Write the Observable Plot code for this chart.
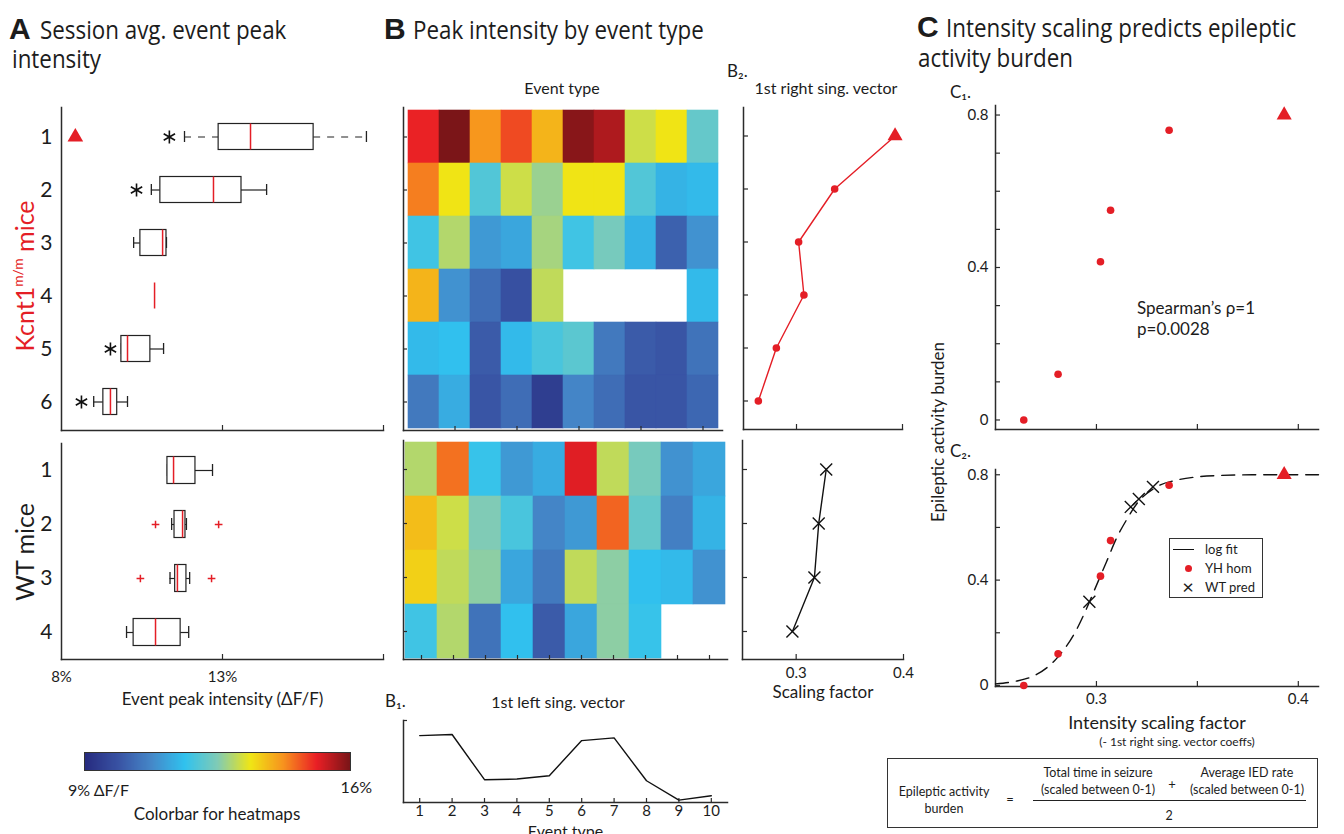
<!DOCTYPE html>
<html><head><meta charset="utf-8">
<script src="https://cdn.jsdelivr.net/npm/d3@7"></script>
<script src="https://cdn.jsdelivr.net/npm/@observablehq/plot@0.6"></script>
<style>
body{margin:0;background:#fff;}
#fig{position:relative;width:1344px;height:834px;overflow:hidden;background:#fff;}
.t{position:absolute;white-space:nowrap;line-height:1;}
</style></head><body><div id="fig"></div>
<script>
// ---------------- data ----------------
const mutantRows = [1, 2, 3, 4, 5, 6];
const wtRows = [1, 2, 3, 4];
const eventTypes = [1, 2, 3, 4, 5, 6, 7, 8, 9, 10];

// Panel A: Kcnt1 m/m mice, session avg. event peak intensity (% dF/F)
const mutWhiskerLo = [11.82, 10.79, 10.24, null, 9.86, 9.00];
const mutQ1        = [12.88, 11.07, 10.45, null, 9.86, 9.30];
const mutMedian    = [13.87, 12.72, 11.14, 10.89, 10.05, 9.52];
const mutQ3        = [15.83, 13.59, 11.26, null, 10.76, 9.73];
const mutWhiskerHi = [17.47, 14.37, 11.26, null, 11.17, 10.05];
const mutStar      = [11.35, 10.33, null, null, 9.52, 8.62];
const mutTriangleRow = 1;
const mutTriangleX = 8.43;

// Panel A: WT mice
const wtWhiskerLo = [11.29, 11.42, 11.37, 10.02];
const wtQ1        = [11.29, 11.51, 11.53, 10.24];
const wtMedian    = [11.48, 11.76, 11.60, 10.92];
const wtQ3        = [12.16, 11.85, 11.88, 11.70];
const wtWhiskerHi = [12.69, 11.88, 11.98, 11.95];
const wtOutlierRow = [2, 2, 3, 3];
const wtOutlierX   = [10.92, 12.88, 10.45, 12.66];

// Panel B: peak intensity heatmaps (% dF/F), rows = mice, cols = event type
const mutHeat = [
  [15.1, 16.0, 14.2, 14.8, 13.9, 15.9, 15.6, 13.1, 13.4, 12.2],
  [14.4, 13.4, 12.0, 13.1, 12.7, 13.4, 13.4, 12.0, 11.4, 11.5],
  [11.8, 12.9, 11.0, 11.2, 12.8, 11.8, 12.4, 11.4, 10.1, 10.9],
  [13.9, 10.9, 10.3,  9.8, 13.0, null, null, null, null, 11.5],
  [11.5, 11.6, 10.0, 11.5, 11.9, 12.1, 10.5, 10.0,  9.9, 10.4],
  [10.5, 11.3,  9.9, 10.3,  9.4, 10.7, 10.3,  9.9,  9.9, 10.2]
];
const wtHeat = [
  [12.9, 14.5, 11.7, 11.0, 11.3, 15.2, 13.0, 12.4, 10.9, 11.2],
  [13.8, 13.1, 12.5, 11.9, 10.7, 11.0, 14.6, 12.2, 10.6, 11.4],
  [13.6, 13.0, 12.6, 11.2, 10.5, 13.0, 12.6, 11.6, 11.5, 10.9],
  [11.8, 12.9, 10.4, 11.6, 10.0, 11.2, 12.6, 11.7, null, null]
];
const heatDomain = [9, 16];
const heatColors = ["#272c80", "#3953a4", "#4588c9", "#30c2ef", "#80cbb6", "#f0e615", "#f7921e", "#ea1f25", "#7b1518"];

// B1: 1st left singular vector (per event type, arbitrary units)
const leftVector = [0.816, 0.829, 0.278, 0.286, 0.327, 0.755, 0.788, 0.265, 0.029, 0.082];
// B2: 1st right singular vector (scaling factor per mouse)
const mutScaling = [0.393, 0.336, 0.302, 0.307, 0.281, 0.264];
const wtScaling  = [0.328, 0.321, 0.317, 0.2965];

// C: epileptic activity burden
const mutBurden = [0.80, 0.76, 0.415, 0.55, 0.12, 0.0];
const wtPredBurden = [0.754, 0.708, 0.678, 0.318];
const fitX = [0.25, 0.26, 0.27, 0.28, 0.29, 0.295, 0.30, 0.305, 0.31, 0.315, 0.32, 0.33, 0.34, 0.35, 0.36, 0.38, 0.41];
const fitY = [0.006, 0.016, 0.04, 0.10, 0.21, 0.29, 0.38, 0.47, 0.56, 0.63, 0.69, 0.755, 0.78, 0.792, 0.797, 0.80, 0.80];

const c1YTicks = [0, 0.1, 0.2, 0.3, 0.4, 0.5, 0.6, 0.7, 0.8];
const c2YTicks = [0, 0.2, 0.4, 0.6, 0.8];
const cYLabels = [0, 0.4, 0.8];
const cXTicks = [0.3, 0.35, 0.4];
const cXLabels = [0.3, 0.4];

// ---------------- helpers ----------------
const W = 1344, H = 834;
const fig = document.getElementById("fig");
const FONT = "Lato, 'Open Sans', 'DejaVu Sans', sans-serif";
const TFONT = "'Open Sans', sans-serif";
const RED = "#e41e26", AX = "#2b2b2b", INK = "#1c1c1c";

function place(box, opts) {
  const [x0, y0, x1, y1] = box;
  const svg = Plot.plot({
    width: W, height: H,
    marginLeft: x0, marginRight: W - x1, marginTop: y0, marginBottom: H - y1,
    style: {background: "transparent", fontFamily: FONT, color: INK, overflow: "visible"},
    ...opts
  });
  svg.style.position = "absolute"; svg.style.left = "0px"; svg.style.top = "0px";
  fig.appendChild(svg);
  return svg;
}
function txt(s, x, y, o = {}) {
  const {size = 16, anchor = "start", color = INK, weight = 400, rotate = 0, family = FONT, html = false, sx = 1} = o;
  const d = document.createElement("div");
  d.className = "t";
  if (html) d.innerHTML = s; else d.textContent = s;
  const tx = anchor === "middle" ? "-50%" : anchor === "end" ? "-100%" : "0";
  d.style.left = x + "px"; d.style.top = y + "px";
  d.style.fontSize = size + "px"; d.style.color = color; d.style.fontWeight = weight; d.style.fontFamily = family;
  d.style.transformOrigin = "0 50%";
  if (rotate) d.style.transformOrigin = "50% 50%";
  d.style.transform = `translate(${rotate ? "-50%" : tx},-50%)` + (rotate ? ` rotate(${rotate}deg)` : "") + (sx !== 1 ? ` scaleX(${sx})` : "");
  fig.appendChild(d);
  return d;
}
const frameL = () => Plot.frame({anchor: "left", stroke: AX, strokeWidth: 1.5});
const frameB = () => Plot.frame({anchor: "bottom", stroke: AX, strokeWidth: 1.5});
const inTicksX = (vals, h, len = 5) => Plot.ruleX(vals, {insetTop: h - len, stroke: AX, strokeWidth: 1.2});
const inTicksY = (vals, w, len = 5) => Plot.ruleY(vals, {insetRight: w - len, stroke: AX, strokeWidth: 1.2});

function boxMarks(data, dashedRow) {
  const has = data.filter(d => d.q1 != null);
  return [
    Plot.ruleY(has.filter(d => d.row !== dashedRow), {y: "row", x1: "lo", x2: "q1", stroke: "#222", strokeWidth: 1.2}),
    Plot.ruleY(has.filter(d => d.row !== dashedRow), {y: "row", x1: "q3", x2: "hi", stroke: "#222", strokeWidth: 1.2}),
    Plot.ruleY(has.filter(d => d.row === dashedRow), {y: "row", x1: "lo", x2: "q1", stroke: "#222", strokeWidth: 1.2, strokeDasharray: "7,7"}),
    Plot.ruleY(has.filter(d => d.row === dashedRow), {y: "row", x1: "q3", x2: "hi", stroke: "#222", strokeWidth: 1.2, strokeDasharray: "7,7"}),
    Plot.tickX(has, {x: "lo", y: "row", insetTop: 21, insetBottom: 21, stroke: "#222", strokeWidth: 1.3}),
    Plot.tickX(has, {x: "hi", y: "row", insetTop: 21, insetBottom: 21, stroke: "#222", strokeWidth: 1.3}),
    Plot.barX(has, {x1: "q1", x2: "q3", y: "row", insetTop: 13.5, insetBottom: 13.5, fill: "white", stroke: "#222", strokeWidth: 1.2}),
    Plot.tickX(data, {x: "med", y: "row", insetTop: 13.5, insetBottom: 13.5, stroke: RED, strokeWidth: 1.5})
  ];
}

// ---------------- Panel A ----------------
const mutBox = mutantRows.map((r, i) => ({row: r, lo: mutWhiskerLo[i], q1: mutQ1[i], med: mutMedian[i], q3: mutQ3[i], hi: mutWhiskerHi[i], star: mutStar[i]}));
const wtBox = wtRows.map((r, i) => ({row: r, lo: wtWhiskerLo[i], q1: wtQ1[i], med: wtMedian[i], q3: wtQ3[i], hi: wtWhiskerHi[i]}));
const wtOut = wtOutlierRow.map((r, i) => ({row: r, x: wtOutlierX[i]}));

place([61, 107, 383, 430], {
  x: {domain: [8, 18], axis: null},
  y: {type: "band", domain: mutantRows, padding: 0},
  marks: [
    Plot.axisY({tickSize: 0, tickPadding: 9, fontSize: 21, label: null}),
    ...boxMarks(mutBox, 1),
    Plot.dot(mutBox.filter(d => d.star != null), {x: "star", y: "row", symbol: "asterisk", r: 6.2, stroke: "#111", strokeWidth: 1.6}),
    Plot.dot([{row: mutTriangleRow, x: mutTriangleX}], {x: "x", y: "row", symbol: "triangle", r: 5.8, fill: RED}),
    inTicksX([13, 18], 323),
    frameL(), frameB()
  ]
});

place([61, 443, 383, 659], {
  x: {domain: [8, 18]},
  y: {type: "band", domain: wtRows, padding: 0},
  marks: [
    Plot.axisY({tickSize: 0, tickPadding: 9, fontSize: 21, label: null}),
    Plot.axisX({ticks: [8, 13], tickFormat: d => d + "%", tickSize: 0, tickPadding: 12, fontSize: 15, label: null}),
    Plot.axisX({ticks: [], label: "Event peak intensity (ΔF/F)", labelAnchor: "center", labelOffset: 45, labelArrow: "none", fontSize: 17}),
    ...boxMarks(wtBox, null),
    Plot.dot(wtOut, {x: "x", y: "row", symbol: "plus", r: 2.6, stroke: RED, strokeWidth: 1.5}),
    inTicksX([13, 18], 216),
    frameL(), frameB()
  ]
});

// ---------------- Panel B heatmaps ----------------
const heatColor = {type: "linear", domain: heatDomain, interpolate: d3.piecewise(d3.interpolateRgb, heatColors)};
const toCells = m => m.flatMap((row, i) => row.map((v, j) => ({row: i + 1, type: eventTypes[j], v}))).filter(d => d.v != null);

place([403, 107, 722, 430], {
  x: {type: "band", domain: eventTypes, padding: 0, axis: null},
  y: {type: "band", domain: mutantRows, padding: 0, axis: null},
  color: heatColor,
  marks: [
    Plot.cell(toCells(mutHeat), {x: "type", y: "row", fill: "v", stroke: "v", strokeWidth: 0.6}),
    inTicksY(mutantRows, 319, 4),
    inTicksX([2, 4, 6, 8, 10], 323, 4),
    frameL(), frameB()
  ]
});

place([403, 440, 727, 659], {
  x: {type: "band", domain: eventTypes, padding: 0, axis: null},
  y: {type: "band", domain: wtRows, padding: 0, axis: null},
  color: heatColor,
  marks: [
    Plot.cell(toCells(wtHeat), {x: "type", y: "row", fill: "v", stroke: "v", strokeWidth: 0.6}),
    inTicksY(wtRows, 324, 4),
    inTicksX(eventTypes, 219, 4),
    frameL(), frameB()
  ]
});

// ---------------- B2 right singular vector ----------------
const mutScal = mutantRows.map((r, i) => ({row: r, s: mutScaling[i]}));
const wtScal = wtRows.map((r, i) => ({row: r, s: wtScaling[i]}));

place([743, 107, 902, 429], {
  x: {domain: [0.25, 0.4], axis: null},
  y: {type: "band", domain: mutantRows, padding: 0, axis: null},
  marks: [
    inTicksY(mutantRows, 159, 5),
    inTicksX([0.3, 0.4], 322, 5),
    frameL(), frameB(),
    Plot.line(mutScal, {x: "s", y: "row", stroke: RED, strokeWidth: 1.4}),
    Plot.dot(mutScal.filter(d => d.row !== mutTriangleRow), {x: "s", y: "row", r: 3.8, fill: RED}),
    Plot.dot(mutScal.filter(d => d.row === mutTriangleRow), {x: "s", y: "row", symbol: "triangle", r: 5.6, fill: RED})
  ]
});

place([742, 440, 903, 659], {
  x: {domain: [0.25, 0.4]},
  y: {type: "band", domain: wtRows, padding: 0, axis: null},
  marks: [
    Plot.axisX({ticks: [0.3, 0.4], tickFormat: d => String(d), tickSize: 0, tickPadding: 8, fontSize: 15, label: null}),
    Plot.axisX({ticks: [], label: "Scaling factor", labelAnchor: "center", labelOffset: 38, labelArrow: "none", fontSize: 17}),
    inTicksY(wtRows, 161, 5),
    inTicksX([0.3, 0.4], 219, 5),
    frameL(), frameB(),
    Plot.line(wtScal, {x: "s", y: "row", stroke: "#111", strokeWidth: 1.4}),
    Plot.dot(wtScal, {x: "s", y: "row", symbol: "times", r: 5.5, stroke: "#111", strokeWidth: 1.4})
  ]
});

// ---------------- B1 left singular vector ----------------
const leftVec = eventTypes.map((t, i) => ({type: t, v: leftVector[i]}));
place([403, 720, 727, 802], {
  x: {domain: [0.5, 10.5]},
  y: {domain: [0, 1], axis: null},
  marks: [
    Plot.axisX({ticks: eventTypes, tickSize: 0, tickPadding: 3, fontSize: 15, label: null}),
    Plot.axisX({ticks: [], label: "Event type", labelAnchor: "center", labelOffset: 34, labelArrow: "none", fontSize: 16}),
    inTicksX(eventTypes, 82, 4),
    inTicksY([1], 324, 4),
    frameL(), frameB(),
    Plot.line(leftVec, {x: "type", y: "v", stroke: "#111", strokeWidth: 1.4})
  ]
});

// ---------------- Panel C ----------------
const mutC = mutantRows.map((r, i) => ({row: r, s: mutScaling[i], b: mutBurden[i]}));
const wtC = wtRows.map((r, i) => ({row: r, s: wtScaling[i], b: wtPredBurden[i]}));
const fit = fitX.map((x, i) => ({x, y: fitY[i]}));
const cFmt = d => String(d);

place([995, 105, 1318, 429], {
  x: {domain: [0.25, 0.41], axis: null},
  y: {domain: [-0.025, 0.825]},
  marks: [
    Plot.axisY({ticks: cYLabels, tickFormat: cFmt, tickSize: 0, tickPadding: 7, fontSize: 15, label: null}),
    inTicksY(c1YTicks, 323, 5),
    inTicksX(cXTicks, 324, 5),
    frameL(), frameB(),
    Plot.dot(mutC.filter(d => d.row !== mutTriangleRow), {x: "s", y: "b", r: 3.8, fill: RED}),
    Plot.dot(mutC.filter(d => d.row === mutTriangleRow), {x: "s", y: "b", symbol: "triangle", r: 5.6, fill: RED})
  ]
});

place([995, 469, 1318, 686], {
  x: {domain: [0.25, 0.41]},
  y: {domain: [-0.004, 0.82]},
  marks: [
    Plot.axisY({ticks: cYLabels, tickFormat: cFmt, tickSize: 0, tickPadding: 7, fontSize: 15, label: null}),
    Plot.axisX({ticks: cXLabels, tickFormat: cFmt, tickSize: 0, tickPadding: 7, fontSize: 15, label: null}),
    Plot.axisX({ticks: [], label: "Intensity scaling factor", labelAnchor: "center", labelOffset: 42, labelArrow: "none", fontSize: 18}),
    inTicksY(c2YTicks, 323, 5),
    inTicksX(cXTicks, 217, 5),
    frameL(), frameB(),
    Plot.line(fit, {x: "x", y: "y", curve: "monotone-x", stroke: "#111", strokeWidth: 1.4, strokeDasharray: "13,8"}),
    Plot.dot(wtC, {x: "s", y: "b", symbol: "times", r: 5.5, stroke: "#111", strokeWidth: 1.4}),
    Plot.dot(mutC.filter(d => d.row !== mutTriangleRow), {x: "s", y: "b", r: 3.8, fill: RED}),
    Plot.dot(mutC.filter(d => d.row === mutTriangleRow), {x: "s", y: "b", symbol: "triangle", r: 5.6, fill: RED})
  ]
});

// ---------------- colorbar ----------------
const cb = Plot.legend({
  color: heatColor, width: 265, height: 17,
  marginLeft: 0, marginRight: 0, marginTop: 0, marginBottom: 0,
  ticks: [], tickSize: 0, tickFormat: () => "", label: null
});
const cbWrap = document.createElement("div");
cbWrap.style.cssText = "position:absolute;left:84px;top:752px;width:265px;height:17px;border:1.5px solid #333;overflow:hidden;line-height:0;";
cbWrap.appendChild(cb);
fig.appendChild(cbWrap);

// ---------------- text ----------------
const BOLD = "'Liberation Sans', Arial, sans-serif";
txt("A", 9, 29, {size: 30, weight: 700, family: BOLD});
txt("Session avg. event peak", 40, 29, {size: 26, family: TFONT, sx: 0.86});
txt("intensity", 12, 58, {size: 26, family: TFONT, sx: 0.86});
txt("B", 384, 29, {size: 30, weight: 700, family: BOLD});
txt("Peak intensity by event type", 413, 29, {size: 26, family: TFONT, sx: 0.86});
txt("C", 917, 27, {size: 30, weight: 700, family: BOLD});
txt("Intensity scaling predicts epileptic", 946, 27, {size: 26, family: TFONT, sx: 0.86});
txt("activity burden", 918, 57, {size: 26, family: TFONT, sx: 0.86});

txt("Kcnt1<sup style='font-size:0.55em;vertical-align:0.75em'>m/m</sup> mice", 24, 276, {size: 25, color: RED, rotate: -90, html: true});
txt("WT mice", 24, 552, {size: 25, rotate: -90});

txt("Event type", 562, 88, {size: 16, anchor: "middle"});
txt("B₂.", 727, 70, {size: 17});
txt("1st right sing. vector", 826, 88, {size: 16, anchor: "middle"});
txt("B₁.", 385, 700, {size: 17});
txt("1st left sing. vector", 558, 702, {size: 16, anchor: "middle"});

txt("C₁.", 950, 91, {size: 17});
txt("C₂.", 950, 450, {size: 17});
txt("Spearman’s ρ=1", 1137, 307, {size: 17});
txt("p=0.0028", 1137, 328, {size: 17});
txt("Epileptic activity burden", 937, 432, {size: 17, rotate: -90});
txt("(- 1st right sing. vector coeffs)", 1177, 742, {size: 12, anchor: "middle"});

txt("9% ΔF/F", 68, 790, {size: 16});
txt("16%", 372, 787, {size: 16, anchor: "end"});
txt("Colorbar for heatmaps", 217, 813, {size: 17, anchor: "middle"});

// legend box in C2
const lg = document.createElement("div");
lg.style.cssText = "position:absolute;left:1169px;top:538px;width:92px;height:58px;border:1.3px solid #333;background:#fff;";
fig.appendChild(lg);
const lgLine = document.createElement("div");
lgLine.style.cssText = "position:absolute;left:1173px;top:549px;width:21px;height:0;border-top:1.4px solid #111;";
fig.appendChild(lgLine);
const lgDot = document.createElement("div");
lgDot.style.cssText = `position:absolute;left:1185px;top:565px;width:7px;height:7px;border-radius:50%;background:${RED};`;
fig.appendChild(lgDot);
txt("×", 1188, 586, {size: 20, anchor: "middle"});
txt("log fit", 1205, 549, {size: 13});
txt("YH hom", 1205, 568, {size: 13});
txt("WT pred", 1205, 587, {size: 13});

// formula box
const fb = document.createElement("div");
fb.style.cssText = "position:absolute;left:887px;top:758px;width:429px;height:68px;border:1.5px solid #333;";
fig.appendChild(fb);
const fl = document.createElement("div");
fl.style.cssText = "position:absolute;left:1033px;top:800px;width:273px;height:0;border-top:1.2px solid #222;";
fig.appendChild(fl);
txt("Epileptic activity", 944, 792, {size: 12.5, anchor: "middle"});
txt("burden", 944, 809, {size: 12.5, anchor: "middle"});
txt("=", 1010, 799, {size: 13, anchor: "middle"});
txt("Total time in seizure", 1098, 773, {size: 12.5, anchor: "middle"});
txt("(scaled between 0-1)", 1098, 790, {size: 12.5, anchor: "middle"});
txt("+", 1172, 784, {size: 13, anchor: "middle"});
txt("Average IED rate", 1247, 773, {size: 12.5, anchor: "middle"});
txt("(scaled between 0-1)", 1247, 790, {size: 12.5, anchor: "middle"});
txt("2", 1169, 816, {size: 12.5, anchor: "middle"});
</script></body></html>
